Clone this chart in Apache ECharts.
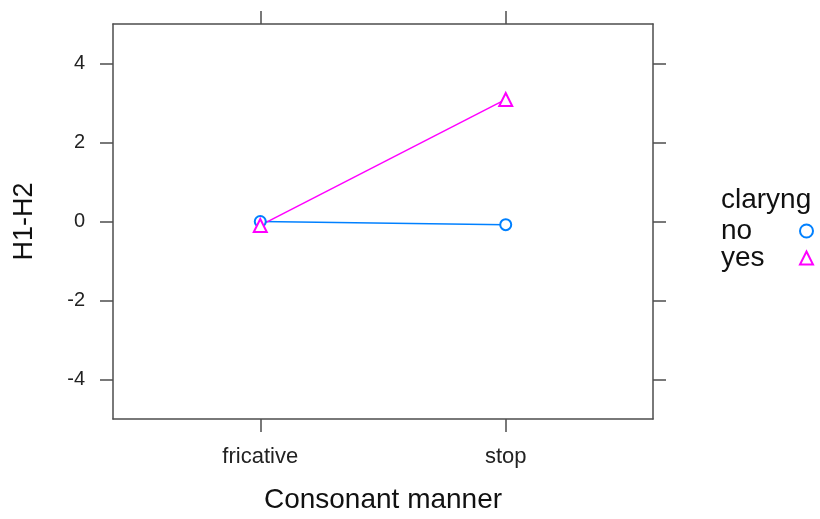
<!DOCTYPE html>
<html>
<head>
<meta charset="utf-8">
<script src="https://cdn.jsdelivr.net/npm/echarts@6/dist/echarts.min.js"></script>
<style>
  html, body { margin: 0; padding: 0; background: #fff; }
  #main { width: 820px; height: 519px; }
</style>
</head>
<body>
<div id="main"></div>
<script>
// categories on the x axis (placed at 1 and 2)
const categories = ['fricative', 'stop'];
const catPos = [1, 2];
// H1-H2 means by claryng group
const noValues = [0.0, -0.08];
const yesValues = [-0.1, 3.09];
const yTicks = [-4, -2, 0, 2, 4];

const font = 'Liberation Sans, Arial, Helvetica, sans-serif';
const boxColor = '#4d4d4d';

const myChart = echarts.init(document.getElementById('main'));

const xBase = {
  type: 'value',
  min: 0.4,
  max: 2.6,
  splitLine: { show: false },
  axisLine: { show: true, onZero: false, lineStyle: { color: boxColor, width: 1.5 } },
  axisTick: { show: true, length: 13, customValues: catPos, lineStyle: { color: boxColor, width: 1.5 } }
};
const yBase = {
  type: 'value',
  min: -5,
  max: 5,
  splitLine: { show: false },
  axisLine: { show: true, onZero: false, lineStyle: { color: boxColor, width: 1.5 } },
  axisTick: { show: true, length: 13, customValues: yTicks, lineStyle: { color: boxColor, width: 1.5 } }
};

const option = {
  animation: false,
  backgroundColor: '#fff',
  textStyle: { fontFamily: font },
  grid: { left: 113, right: 167, top: 24, bottom: 99 },
  xAxis: [
    Object.assign({}, xBase, {
      position: 'bottom',
      name: 'Consonant manner',
      nameLocation: 'middle',
      nameGap: 67,
      nameTextStyle: { fontSize: 28, color: '#111', fontFamily: font },
      axisLabel: {
        customValues: catPos,
        margin: 27,
        fontSize: 22,
        color: '#222',
        fontFamily: font,
        formatter: (v) => categories[catPos.indexOf(v)] || ''
      }
    }),
    Object.assign({}, xBase, { position: 'top', axisLabel: { show: false } })
  ],
  yAxis: [
    Object.assign({}, yBase, {
      position: 'left',
      name: 'H1-H2',
      nameLocation: 'middle',
      nameGap: 75,
      nameRotate: 90,
      nameTextStyle: { fontSize: 27, color: '#111', fontFamily: font },
      axisLabel: { customValues: yTicks, margin: 28, fontSize: 20, color: '#222', fontFamily: font }
    }),
    Object.assign({}, yBase, { position: 'right', axisLabel: { show: false } })
  ],
  legend: {
    orient: 'vertical',
    left: 721,
    top: 217,
    padding: 0,
    align: 'right',
    itemGap: -1,
    itemWidth: 13,
    itemHeight: 13,
    formatter: '{t|{name}}',
    textStyle: {
      fontFamily: font,
      rich: { t: { fontSize: 28, lineHeight: 22, color: '#111', fontFamily: font, width: 74, align: 'left' } }
    },
    data: [
      { name: 'no', icon: 'emptyCircle' },
      { name: 'yes', icon: 'emptyTriangle' }
    ]
  },
  graphic: [{
    type: 'text',
    left: 721,
    top: 186,
    style: { text: 'claryng', fontSize: 28, fill: '#111', fontFamily: font }
  }],
  series: [
    {
      name: 'no',
      type: 'line',
      data: catPos.map((x, i) => [x, noValues[i]]),
      symbol: 'emptyCircle',
      symbolSize: 11,
      color: '#0080ff',
      lineStyle: { color: '#0080ff', width: 1.5 },
      itemStyle: { color: '#0080ff', borderWidth: 2 }
    },
    {
      name: 'yes',
      type: 'line',
      data: catPos.map((x, i) => [x, yesValues[i]]),
      symbol: 'emptyTriangle',
      symbolSize: 13,
      color: '#ff00ff',
      lineStyle: { color: '#ff00ff', width: 1.5 },
      itemStyle: { color: '#ff00ff', borderWidth: 2 }
    }
  ]
};

myChart.setOption(option);
</script>
</body>
</html>
